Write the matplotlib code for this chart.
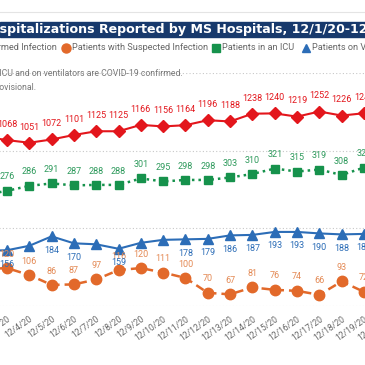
import matplotlib
matplotlib.use("Agg")
from matplotlib import pyplot as plt
from matplotlib import font_manager
from matplotlib.patches import Rectangle
from matplotlib.lines import Line2D

dates = ["12/2/20", "12/3/20", "12/4/20", "12/5/20", "12/6/20", "12/7/20", "12/8/20",
         "12/9/20", "12/10/20", "12/11/20", "12/12/20", "12/13/20", "12/14/20",
         "12/15/20", "12/16/20", "12/17/20", "12/18/20", "12/19/20"]
confirmed = [1090, 1068, 1051, 1072, 1101, 1125, 1125, 1166, 1156, 1164, 1196, 1188,
             1238, 1240, 1219, 1252, 1226, 1241]
suspected = [118, 120, 106, 86, 87, 97, 116, 120, 111, 100, 70, 67, 81, 76, 74, 66, 93, 72]
icu = [268, 276, 286, 291, 287, 288, 288, 301, 295, 298, 298, 303, 310, 321, 315, 319, 308, 323]
ventilators = [155, 156, 165, 184, 170, 168, 159, 171, 177, 178, 179, 186, 187, 193, 193,
               190, 188, 189]
# ventilator labels that the original chart hides because they collide
vent_hidden = ["12/4/20", "12/7/20", "12/9/20", "12/10/20"]
# the next category only shows the start of its tick label at the right edge
tick_labels = dates + ["12/20/20"]

title = "COVID-19 Hospitalizations Reported by MS Hospitals, 12/1/20-12/21/20"

RED = "#E3161C"
GREEN = "#16924C"
BLUE = "#2C6DB7"
ORANGE = "#E2692A"
NAVY = "#17396C"
GREY = "#666666"

names = {f.name for f in font_manager.fontManager.ttflist}
NARROW = "Liberation Sans Narrow" if "Liberation Sans Narrow" in names else "Roboto"

W = H = 365


def fy(px):
	return 1 - px / H


fig = plt.figure(figsize=(3.65, 3.65), dpi=100)

# top rule and title band
fig.add_artist(Line2D([0, 1], [fy(12), fy(12)], color="#E4E4E4", lw=0.8))
fig.patches.append(Rectangle((0, fy(37)), 1, fy(22) - fy(37), transform=fig.transFigure,
                             color=NAVY, zorder=0))
renderer = fig.canvas.get_renderer()
probe = fig.text(0, 0, "COVID-19 Ho", fontsize=9.1, weight="bold")
shift = probe.get_window_extent(renderer).width
probe.remove()
fig.text(-shift / W, fy(29.5), title, fontsize=9.1, weight="bold", color="white",
         va="center", ha="left")

# legend row
leg_y = fy(48)
leg_kw = dict(fontsize=6.6, color=GREY, va="center", family=NARROW)
fig.text(57 / W, leg_y, "Patients with Confirmed Infection", ha="right", **leg_kw)
fig.add_artist(Line2D([66 / W], [leg_y], marker="o", ms=6.5, color=ORANGE, lw=0))
fig.text(72 / W, leg_y, "Patients with Suspected Infection", ha="left", **leg_kw)
fig.add_artist(Line2D([216 / W], [leg_y], marker="s", ms=5.5, color=GREEN, lw=0))
fig.text(222 / W, leg_y, "Patients in an ICU", ha="left", **leg_kw)
fig.add_artist(Line2D([306 / W], [leg_y], marker="^", ms=6, color=BLUE, lw=0))
fig.text(312 / W, leg_y, "Patients on Ventilators", ha="left", **leg_kw)

# notes
note_kw = dict(fontsize=6.3, color="#777777", va="center", ha="right", family=NARROW)
fig.text(183 / W, fy(74), "*All patients in the ICU and on ventilators are COVID-19 confirmed.",
         **note_kw)
fig.text(36 / W, fy(87), "Data for the most recent days are provisional.", **note_kw)

# plot area, wider than the picture so the chart reads as a crop
left_px, right_px = -30, 400
ax = fig.add_axes([left_px / W, fy(306), (right_px - left_px) / W, fy(73) - fy(306)])
ax2 = ax.twinx()
x = list(range(len(dates)))

for a in (ax, ax2):
	for s in a.spines.values():
		s.set_visible(False)
	a.tick_params(left=False, right=False, labelleft=False, labelright=False, bottom=False)
ax.set_yticks([0, 500, 1000, 1500])
ax.grid(axis="y", color="#C8C8C8", linestyle=(0, (1, 2)), lw=0.8)
ax.set_xticks(range(len(tick_labels)))
ax.set_xticklabels(tick_labels, rotation=35, ha="right", rotation_mode="anchor", fontsize=6.2,
                   color=GREY, family=NARROW)
ax.tick_params(axis="x", pad=2.5)

ax.plot(x, confirmed, color=RED, lw=1.5, marker="D", ms=6)
ax2.plot(x, icu, color=GREEN, lw=1.8, linestyle=(0, (1, 1.6)), marker="s", ms=5.5)
ax2.plot(x, ventilators, color=BLUE, lw=1.5, marker="^", ms=6.5)
ax2.plot(x, suspected, color=ORANGE, lw=1.8, linestyle=(0, (3.5, 2)), marker="o", ms=7.5)

step = 22.31
ax.set_xlim(1 + (left_px - 7) / step, 1 + (right_px - 7) / step)
ax.set_ylim(0, 1500)
ax2.set_ylim(43.4, 514)

lab_kw = dict(textcoords="offset points", ha="center", va="center", fontsize=6.5, family=NARROW)
for i, v in enumerate(confirmed):
	ax.annotate(str(v), (i, v), xytext=(0, 11.3), color=RED, **lab_kw)
for i, v in enumerate(icu):
	ax2.annotate(str(v), (i, v), xytext=(0, 10), color="#2E9A5C", **lab_kw)
for i, v in enumerate(suspected):
	ax2.annotate(str(v), (i, v), xytext=(0, 10), color="#E48A55", **lab_kw)
for i, v in enumerate(ventilators):
	if dates[i] not in vent_hidden:
		ax2.annotate(str(v), (i, v), xytext=(0, -10), color=BLUE, **lab_kw)

fig.savefig("out.png", dpi=100)
